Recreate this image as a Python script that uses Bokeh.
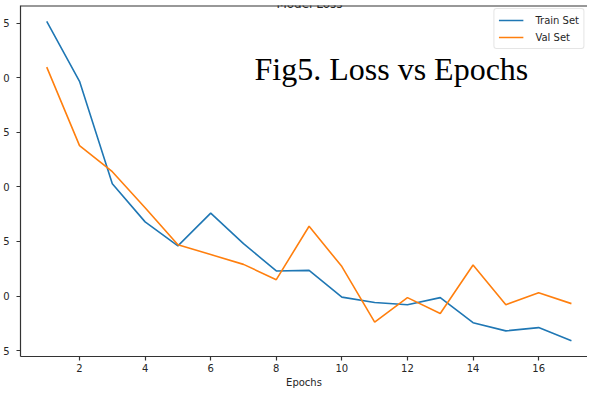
from bokeh.plotting import figure
from bokeh.models import Range1d, FixedTicker, CustomJSTickFormatter, Label, Span, Legend, LegendItem
from bokeh.embed import file_html
from bokeh.resources import INLINE

epochs = list(range(1, 18))
train_loss = [0.652, 0.597, 0.503, 0.468, 0.446, 0.476, 0.448, 0.423, 0.4235, 0.399,
              0.394, 0.392, 0.3985, 0.3755, 0.368, 0.371, 0.359]
val_loss = [0.610, 0.538, 0.514, 0.481, 0.447, 0.438, 0.429, 0.415, 0.464, 0.427,
            0.376, 0.3985, 0.384, 0.4285, 0.392, 0.403, 0.393]
x_ticks = [2, 4, 6, 8, 10, 12, 14, 16]
y_ticks = [0.35, 0.40, 0.45, 0.50, 0.55, 0.60, 0.65]

p = figure(width=587, height=390, output_backend="svg", toolbar_location=None,
           x_range=Range1d(0.2, 17.49), y_range=Range1d(0.3445, 0.6665),
           min_border_left=16, min_border_right=0, min_border_top=5, min_border_bottom=33)
p.outline_line_color = None
p.xgrid.visible = False
p.ygrid.visible = False

r1 = p.line(epochs, train_loss, line_color="#1f77b4", line_width=1.6)
r2 = p.line(epochs, val_loss, line_color="#ff7f0e", line_width=1.6)

p.axis.axis_line_color = "#333333"
p.axis.axis_line_width = 1.2
p.axis.major_tick_line_color = "#333333"
p.axis.major_tick_line_width = 1.2
p.axis.major_tick_out = 4
p.axis.major_tick_in = 0
p.axis.minor_tick_line_color = None
p.axis.major_label_text_font = "DejaVu Sans"
p.axis.major_label_text_font_size = "10px"
p.axis.major_label_text_color = "#262626"

p.xaxis.ticker = FixedTicker(ticks=x_ticks)
p.xaxis.major_label_standoff = 3
p.xaxis.axis_label = "Epochs"
p.xaxis.axis_label_text_font = "DejaVu Sans"
p.xaxis.axis_label_text_font_size = "10px"
p.xaxis.axis_label_text_font_style = "normal"
p.xaxis.axis_label_text_color = "#262626"
p.xaxis.axis_label_standoff = 2

p.yaxis.ticker = FixedTicker(ticks=y_ticks)
p.yaxis.formatter = CustomJSTickFormatter(code="return tick.toFixed(2).slice(-1);")
p.yaxis.major_label_standoff = 7

top = Span(location=0.6665, dimension="width", line_color="#333333", line_width=2)
p.add_layout(top)

legend = Legend(items=[LegendItem(label="Train Set", renderers=[r1]),
                       LegendItem(label="Val Set", renderers=[r2])],
                location="top_right", margin=3, padding=4, spacing=3,
                glyph_width=25, glyph_height=14, label_height=14, label_standoff=12,
                label_text_font="DejaVu Sans", label_text_font_size="10px",
                label_text_color="#262626",
                border_line_color="#cccccc", border_line_width=1,
                border_radius=3, background_fill_alpha=0.8)
p.add_layout(legend)

title = Label(x=289, y=353, x_units="screen", y_units="screen", text="Model Loss",
              text_font="DejaVu Sans", text_font_size="12px", text_color="#262626",
              text_align="center", text_baseline="alphabetic")
p.add_layout(title)

fig_note = Label(x=234, y=288, x_units="screen", y_units="screen",
                 text="Fig5. Loss vs Epochs", text_font="Liberation Serif",
                 text_font_size="32px", text_color="black",
                 text_align="left", text_baseline="alphabetic")
p.add_layout(fig_note)

open("out.html", "w").write(file_html(p, INLINE))
